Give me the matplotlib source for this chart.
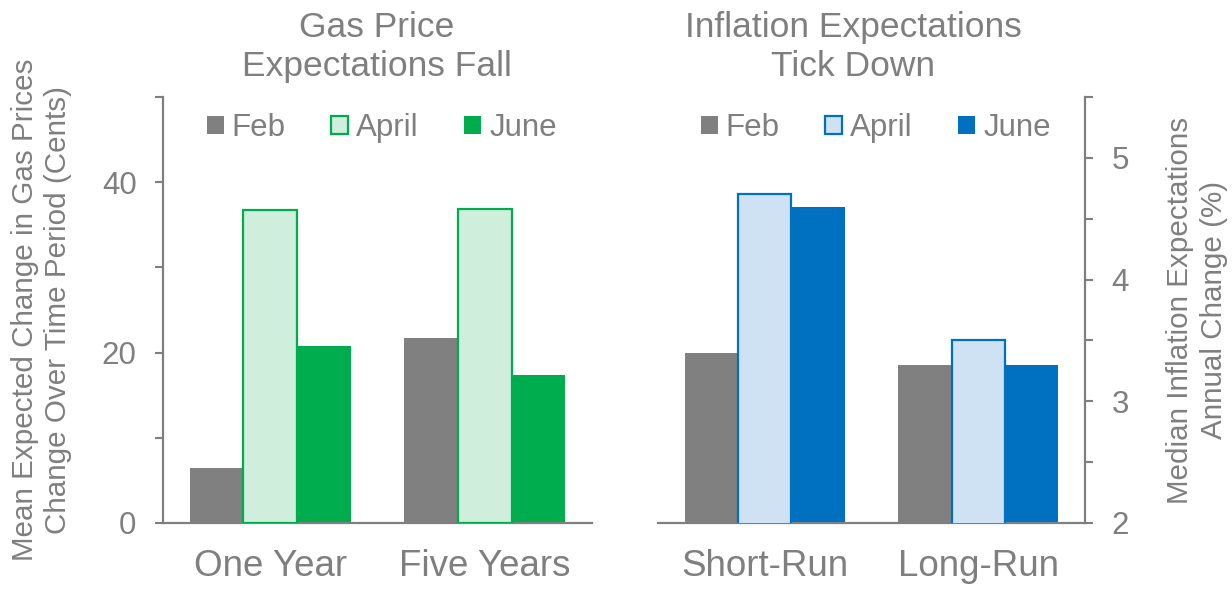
import numpy as np
import matplotlib.pyplot as plt

plt.rcParams['font.family'] = ['Liberation Sans', 'DejaVu Sans']

GRAY_TXT = '#7f7f7f'

months = ['Feb', 'April', 'June']

gas_cats = ['One Year', 'Five Years']
gas_feb = [6.5, 21.7]
gas_apr = [36.7, 36.9]
gas_jun = [20.8, 17.4]

inf_cats = ['Short-Run', 'Long-Run']
inf_feb = [3.4, 3.3]
inf_apr = [4.7, 3.5]
inf_jun = [4.6, 3.3]

fig = plt.figure(figsize=(12.32, 5.9), dpi=100)
W, H = 1232, 590
ax1 = fig.add_axes([163 / W, 67 / H, 429 / W, 426 / H])
ax2 = fig.add_axes([658 / W, 67 / H, 427 / W, 426 / H])


def draw_panel(ax, cats, feb, apr, jun, dark, light):
    x = np.arange(len(cats))
    w = 0.25
    ax.bar(x - w, feb, w, color='#808080', zorder=2, label=months[0])
    ax.bar(x + w, jun, w, color=dark, zorder=2, label=months[2])
    ax.bar(x, apr, w, color=light, edgecolor=dark, linewidth=1.6, zorder=3, label=months[1])
    ax.set_xlim(-0.5, 1.5)
    ax.set_xticks(x)
    ax.set_xticklabels(cats, fontsize=26.5, color=GRAY_TXT)
    ax.tick_params(axis='x', length=0, pad=19)
    ax.tick_params(axis='y', direction='out', length=6, width=1.5, color=GRAY_TXT,
                   labelsize=22.5, labelcolor=GRAY_TXT, pad=13)
    for s in ax.spines.values():
        s.set_color(GRAY_TXT)
        s.set_linewidth(1.6)
    ax.spines['top'].set_visible(False)
    handles, labels = ax.get_legend_handles_labels()
    order = [0, 2, 1]
    leg = ax.legend([handles[i] for i in order], [labels[i] for i in order],
                    ncol=3, frameon=False, loc='center', bbox_to_anchor=(0.51, 0.927),
                    fontsize=22.5, handlelength=0.55, handleheight=0.55,
                    handletextpad=0.25, columnspacing=1.45, borderpad=0)
    for t in leg.get_texts():
        t.set_color(GRAY_TXT)


draw_panel(ax1, gas_cats, gas_feb, gas_apr, gas_jun, '#00ad4e', '#cfeedc')
draw_panel(ax2, inf_cats, inf_feb, inf_apr, inf_jun, '#0070c0', '#cfe2f3')

# left axis
ax1.spines['right'].set_visible(False)
ax1.set_ylim(0, 50)
ax1.set_yticks(np.arange(0, 51, 10))
ax1.set_yticklabels(['0', '', '20', '', '40', ''])
ax1.set_ylabel('Mean Expected Change in Gas Prices\nChange Over Time Period (Cents)',
               fontsize=21.3, color=GRAY_TXT, linespacing=1.25)
ax1.yaxis.set_label_coords(-0.212, 0.5)

# right axis
ax2.spines['left'].set_visible(False)
ax2.yaxis.tick_right()
ax2.yaxis.set_label_position('right')
ax2.set_ylim(2, 5.5)
ax2.set_yticks(np.arange(2, 5.51, 0.5))
ax2.set_yticklabels(['2', '', '3', '', '4', '', '5', ''])
ax2.set_ylabel('Median Inflation Expectations\nAnnual Change (%)',
               fontsize=21.3, color=GRAY_TXT, linespacing=1.25, rotation=90)
ax2.yaxis.set_label_coords(1.19, 0.5)

fig.text(377 / W, 1 - 47 / H, 'Gas Price\nExpectations Fall', ha='center', va='center',
         fontsize=25.5, color=GRAY_TXT, linespacing=1.25)
fig.text(853 / W, 1 - 47 / H, 'Inflation Expectations\nTick Down', ha='center', va='center',
         fontsize=25.5, color=GRAY_TXT, linespacing=1.25)

fig.savefig('out.png', dpi=100)
